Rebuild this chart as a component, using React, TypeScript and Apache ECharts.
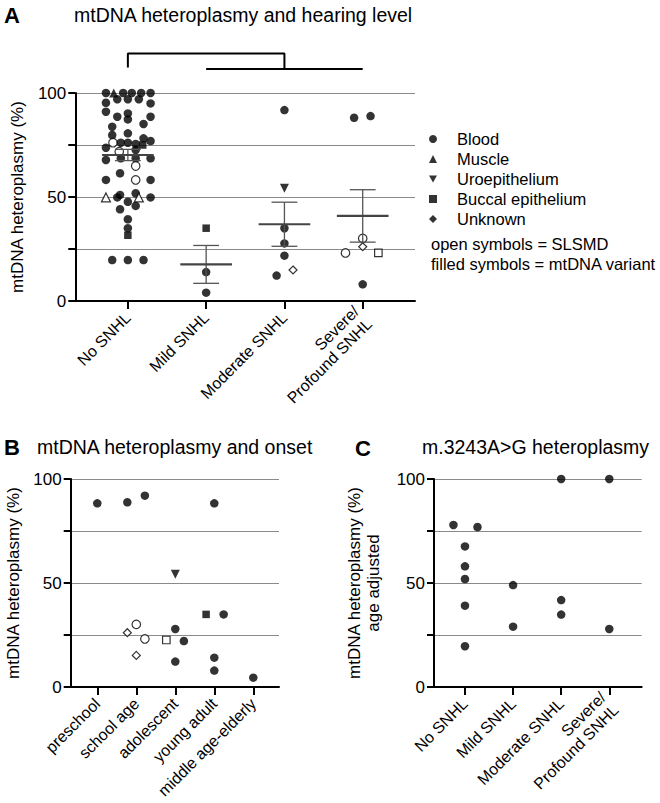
import React, { useEffect, useRef } from 'react';
import * as echarts from 'echarts';

const FONT = '"Liberation Sans", Arial, Helvetica, sans-serif';

// ---------- data ----------
const catsA = ['No SNHL', 'Mild SNHL', 'Moderate SNHL', 'Severe/\nProfound SNHL'];
const catsB = ['preschool', 'school age', 'adolescent', 'young adult', 'middle age-elderly'];
const catsC = ['No SNHL', 'Mild SNHL', 'Moderate SNHL', 'Severe/\nProfound SNHL'];

// [category index, horizontal jitter (category units), heteroplasmy %, tissue, open symbol (1) ]
type Pt = [number, number, number, string, number];

const pointsA: Pt[] = [
  [0, -0.28, 100, 'Blood', 0], [0, -0.18, 100, 'Muscle', 0], [0, -0.06, 100, 'Blood', 0],
  [0, 0.05, 100, 'Blood', 0], [0, 0.17, 100, 'Blood', 0], [0, 0.29, 100, 'Blood', 0],
  [0, -0.28, 95.3, 'Blood', 0], [0, -0.135, 97, 'Blood', 0], [0, 0, 97, 'Blood', 0],
  [0, 0.14, 97, 'Blood', 0], [0, 0.29, 95, 'Blood', 0], [0, -0.28, 91, 'Blood', 0],
  [0, 0, 90.2, 'Blood', 0], [0, -0.135, 88.6, 'Blood', 0], [0, 0, 87.3, 'Blood', 0],
  [0, 0.29, 88.6, 'Blood', 0], [0, 0.2, 85.1, 'Blood', 0], [0, -0.2, 83.8, 'Blood', 0],
  [0, 0, 80.6, 'Blood', 0], [0, -0.2, 79.8, 'Blood', 0], [0, 0.2, 78.2, 'Blood', 0],
  [0, 0.29, 76.9, 'Blood', 0], [0, -0.19, 76.1, 'Blood', 1], [0, -0.09, 76.1, 'Blood', 0],
  [0, 0, 76.1, 'Blood', 0], [0, 0.1, 75.5, 'Blood', 0], [0, 0.19, 75, 'Buccal epithelium', 0],
  [0, -0.28, 73.7, 'Blood', 0], [0, -0.11, 71.8, 'Blood', 1], [0, 0.1, 72.6, 'Blood', 0],
  [0, -0.28, 67.8, 'Blood', 0], [0, -0.09, 68.6, 'Blood', 0], [0, 0.1, 68.6, 'Blood', 0],
  [0, 0.29, 68.6, 'Blood', 0], [0, 0.1, 64.9, 'Blood', 1], [0, -0.1, 61.4, 'Blood', 0],
  [0, -0.28, 58.2, 'Blood', 0], [0, 0.1, 58.2, 'Blood', 1], [0, 0.29, 58.2, 'Blood', 0],
  [0, -0.28, 49.8, 'Muscle', 1], [0, -0.135, 49.8, 'Blood', 0], [0, -0.1, 51, 'Blood', 0],
  [0, 0.1, 51.8, 'Blood', 0], [0, 0.14, 49.8, 'Muscle', 1], [0, 0.29, 49.8, 'Blood', 0],
  [0, 0, 47.7, 'Blood', 0], [0, 0.1, 45.7, 'Blood', 0], [0, -0.1, 44.1, 'Blood', 0],
  [0, 0, 39.3, 'Blood', 0], [0, 0, 35, 'Blood', 0], [0, 0, 31.6, 'Buccal epithelium', 0],
  [0, -0.2, 19.7, 'Blood', 0], [0, 0, 19.7, 'Blood', 0], [0, 0.2, 19.7, 'Blood', 0],
  [1, 0, 35, 'Buccal epithelium', 0], [1, 0, 13.9, 'Blood', 0], [1, 0, 4, 'Blood', 0],
  [2, 0, 91.8, 'Blood', 0], [2, 0, 54.2, 'Uroepithelium', 0], [2, 0, 35, 'Blood', 0],
  [2, 0, 27.7, 'Blood', 0], [2, 0, 21.8, 'Blood', 0], [2, -0.1, 12.2, 'Blood', 0],
  [2, 0.11, 14.9, 'Unknown', 1],
  [3, -0.11, 88.1, 'Blood', 0], [3, 0.1, 88.9, 'Blood', 0], [3, 0, 30.1, 'Blood', 1],
  [3, 0, 26.1, 'Unknown', 1], [3, -0.22, 23.1, 'Blood', 1], [3, 0.2, 23.1, 'Buccal epithelium', 1],
  [3, 0, 8, 'Blood', 0],
];
const meanA = [70.2, 17.6, 36.9, 40.9];
const semA = [2.7, 9.1, 10.6, 12.6];

const bracketUpper = [[0, 112.2], [0, 119], [2, 119], [2, 111.5]];
const bracketLower = [[1, 111.5], [3, 111.5]];

const pointsB: Pt[] = [
  [0, 0, 88.3, 'Blood', 0],
  [1, -0.23, 88.8, 'Blood', 0], [1, 0.22, 92, 'Blood', 0], [1, -0.23, 26.1, 'Unknown', 1],
  [1, 0, 30.1, 'Blood', 1], [1, 0.22, 23.1, 'Blood', 1], [1, 0, 15.2, 'Unknown', 1],
  [2, 0, 54.2, 'Uroepithelium', 0], [2, -0.23, 22.6, 'Buccal epithelium', 1], [2, 0, 27.9, 'Blood', 0],
  [2, 0.22, 22.1, 'Blood', 0], [2, 0, 12.2, 'Blood', 0],
  [3, 0, 88.3, 'Blood', 0], [3, -0.21, 34.9, 'Buccal epithelium', 0], [3, 0.24, 34.9, 'Blood', 0],
  [3, 0, 14.1, 'Blood', 0], [3, 0, 7.9, 'Blood', 0],
  [4, 0, 4.5, 'Blood', 0],
];

const pointsC: Pt[] = [
  [0, -0.24, 77.9, 'Blood', 0], [0, 0.26, 76.9, 'Blood', 0], [0, 0, 67.6, 'Blood', 0],
  [0, 0, 58, 'Blood', 0], [0, 0, 51.9, 'Blood', 0], [0, 0, 39.1, 'Blood', 0], [0, 0, 19.6, 'Blood', 0],
  [1, 0, 49, 'Blood', 0], [1, 0, 29, 'Blood', 0],
  [2, 0, 100, 'Blood', 0], [2, 0, 41.8, 'Blood', 0], [2, 0, 34.8, 'Blood', 0],
  [3, 0, 100, 'Blood', 0], [3, 0, 27.9, 'Blood', 0],
];

const INV_TRI = 'path://M0,0L10,0L5,9Z';
const tissues = [
  { name: 'Blood', symbol: 'circle', size: 8.5, rotate: 0, icon: 'circle' },
  { name: 'Muscle', symbol: 'triangle', size: 9, rotate: 0, icon: 'triangle' },
  { name: 'Uroepithelium', symbol: 'triangle', size: 9, rotate: 180, icon: INV_TRI },
  { name: 'Buccal epithelium', symbol: 'rect', size: 7.5, rotate: 0, icon: 'rect' },
  { name: 'Unknown', symbol: 'diamond', size: 8, rotate: 0, icon: 'diamond' },
];

// ---------- helpers ----------
function scatterSeries(points: Pt[], idx: number) {
  return tissues
    .filter((t) => points.some((p) => p[3] === t.name))
    .map((t) => ({
      type: 'scatter',
      name: t.name,
      xAxisIndex: idx,
      yAxisIndex: idx,
      symbol: t.symbol,
      symbolSize: t.size,
      symbolRotate: t.rotate,
      clip: false,
      z: 5,
      itemStyle: { color: '#000' },
      data: points
        .filter((p) => p[3] === t.name)
        .map((p) => ({
          value: [p[0] + p[1], p[2]],
          itemStyle: p[4] ? { color: '#fff', borderColor: '#000', borderWidth: 1.2 } : undefined,
        })),
    }));
}

function xAxis(idx: number, cats: string[], min: number, max: number) {
  const ticks = cats.map((_, i) => i);
  return {
    type: 'value',
    gridIndex: idx,
    min,
    max,
    axisLine: { show: true, onZero: false, lineStyle: { color: '#000', width: 2 } },
    axisTick: { show: true, customValues: ticks, length: 8, lineStyle: { color: '#000', width: 2 } },
    axisLabel: {
      customValues: ticks,
      formatter: (v: number) => cats[Math.round(v)] ?? '',
      rotate: 45,
      fontSize: 16,
      color: '#000',
      margin: 14,
      fontFamily: FONT,
      lineHeight: 18,
    },
    splitLine: { show: false },
  };
}

function yAxis(idx: number, name: string, gap: number) {
  return {
    type: 'value',
    gridIndex: idx,
    min: 0,
    max: 100,
    interval: 25,
    name,
    nameLocation: 'middle',
    nameGap: gap,
    nameTextStyle: { fontSize: 17, color: '#000', fontFamily: FONT, lineHeight: 19 },
    axisLine: { show: true, onZero: false, lineStyle: { color: '#000', width: 2 } },
    axisTick: { show: true, length: 7, lineStyle: { color: '#000', width: 2 } },
    axisLabel: {
      formatter: (v: number) => (v % 50 === 0 ? String(v) : ''),
      fontSize: 17,
      color: '#000',
      margin: 9,
      fontFamily: FONT,
    },
    splitLine: { show: true, lineStyle: { color: '#8a8a8a', width: 1 } },
  };
}

const txt = (x: number, y: number, text: string, size: number, bold = false) => ({
  type: 'text',
  x,
  y,
  silent: true,
  style: {
    text,
    fontSize: size,
    fontWeight: bold ? 'bold' : 'normal',
    fontFamily: FONT,
    fill: '#000',
    verticalAlign: 'middle',
    align: 'left',
  },
});

export default function App() {
  const ref = useRef<HTMLDivElement>(null);
  useEffect(() => {
    if (!ref.current) return;
    const chart = echarts.init(ref.current, undefined, { renderer: 'svg' });
    const option: any = {
      animation: false,
      backgroundColor: '#fff',
      textStyle: { fontFamily: FONT },
      grid: [
        { left: 70.7, top: 93, width: 344.3, height: 208 },
        { left: 70.7, top: 479, width: 208.3, height: 208 },
        { left: 434, top: 479, width: 207.7, height: 208 },
      ],
      xAxis: [
        xAxis(0, catsA, -0.672, 3.668),
        xAxis(1, catsB, -0.682, 4.659),
        xAxis(2, catsC, -0.644, 3.674),
      ],
      yAxis: [
        yAxis(0, 'mtDNA heteroplasmy (%)', 48),
        yAxis(1, 'mtDNA heteroplasmy (%)', 48),
        yAxis(2, 'mtDNA heteroplasmy (%)\nage adjusted', 51),
      ],
      legend: {
        orient: 'vertical',
        left: 424,
        top: 124,
        itemWidth: 8,
        itemHeight: 8,
        itemGap: 0,
        selectedMode: false,
        data: tissues.map((t) => ({ name: t.name, icon: t.icon })),
        textStyle: { fontSize: 16.5, color: '#000', lineHeight: 20, padding: [0, 0, 0, 15], fontFamily: FONT },
      },
      graphic: [
        txt(4, 15, 'A', 22, true),
        txt(74, 15, 'mtDNA heteroplasmy and hearing level', 19.5),
        txt(4, 447, 'B', 22, true),
        txt(37, 447, 'mtDNA heteroplasmy and onset', 19.5),
        txt(355, 448, 'C', 22, true),
        txt(422, 447, 'm.3243A>G heteroplasmy', 19.5),
        txt(431, 244, 'open symbols = SLSMD', 16.5),
        txt(431, 264, 'filled symbols = mtDNA variant', 16.5),
      ],
      series: [
        ...scatterSeries(pointsA, 0),
        ...scatterSeries(pointsB, 1),
        ...scatterSeries(pointsC, 2),
        {
          type: 'custom',
          xAxisIndex: 0,
          yAxisIndex: 0,
          silent: true,
          z: 10,
          clip: false,
          encode: { x: 0, y: 1 },
          data: meanA.map((m, i) => [i, m, semA[i]]),
          renderItem: (params: any, api: any) => {
            const x = api.value(0);
            const m = api.value(1);
            const s = api.value(2);
            const c = api.coord([x, m]);
            const hi = api.coord([x, m + s]);
            const lo = api.coord([x, m - s]);
            const hw = api.size([0.33, 0])[0];
            const cw = api.size([0.165, 0])[0];
            const thin = { stroke: '#555', lineWidth: 1.3 };
            return {
              type: 'group',
              children: [
                { type: 'line', shape: { x1: c[0], y1: hi[1], x2: c[0], y2: lo[1] }, style: thin },
                { type: 'line', shape: { x1: c[0] - cw, y1: hi[1], x2: c[0] + cw, y2: hi[1] }, style: thin },
                { type: 'line', shape: { x1: c[0] - cw, y1: lo[1], x2: c[0] + cw, y2: lo[1] }, style: thin },
                { type: 'line', shape: { x1: c[0] - hw, y1: c[1], x2: c[0] + hw, y2: c[1] }, style: { stroke: '#444', lineWidth: 2.2 } },
              ],
            };
          },
        },
        {
          type: 'line',
          xAxisIndex: 0,
          yAxisIndex: 0,
          data: bracketUpper,
          symbol: 'none',
          clip: false,
          silent: true,
          lineStyle: { color: '#000', width: 2 },
        },
        {
          type: 'line',
          xAxisIndex: 0,
          yAxisIndex: 0,
          data: bracketLower,
          symbol: 'none',
          clip: false,
          silent: true,
          lineStyle: { color: '#000', width: 2 },
        },
      ],
    };
    chart.setOption(option);
    return () => chart.dispose();
  }, []);
  return (
    <div
      ref={ref}
      style={{ position: 'fixed', left: 0, top: 0, width: 660, height: 803, background: '#fff' }}
    />
  );
}
